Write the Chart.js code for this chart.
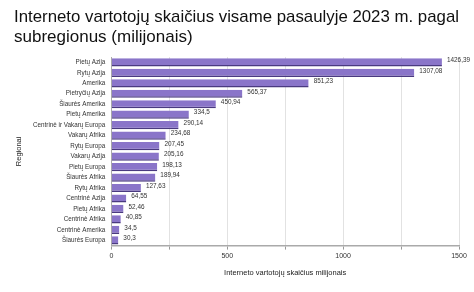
<!DOCTYPE html>
<html>
<head>
<meta charset="utf-8">
<script src="https://cdn.jsdelivr.net/npm/chart.js@4"></script>
<style>
  body { margin: 0; background: #fff; }
  canvas { display: block; }
</style>
</head>
<body>
<canvas id="chart" width="474" height="292"></canvas>
<script>
// data
const regions = ['Pietų Azija', 'Rytų Azija', 'Amerika', 'Pietryčių Azija', 'Šiaurės Amerika',
    'Pietų Amerika', 'Centrinė ir Vakarų Europa', 'Vakarų Afrika', 'Rytų Europa', 'Vakarų Azija',
    'Pietų Europa', 'Šiaurės Afrika', 'Rytų Afrika', 'Centrinė Azija', 'Pietų Afrika',
    'Centrinė Afrika', 'Centrinė Amerika', 'Šiaurės Europa'];
const users = [1426.39, 1307.08, 851.23, 565.37, 450.94, 334.5, 290.14, 234.68, 207.45, 205.16,
    198.13, 189.94, 127.63, 64.55, 52.46, 40.85, 34.5, 30.3];
const xTicks = [0, 500, 1000, 1500];

const fmt = v => String(v).replace('.', ',');

// value labels at bar ends
const barLabels = {
    id: 'barLabels',
    afterDatasetsDraw(chart) {
        const ctx = chart.ctx;
        const meta = chart.getDatasetMeta(0);
        ctx.save();
        ctx.font = '6.4px "Liberation Sans", Arial, sans-serif';
        ctx.fillStyle = '#333';
        ctx.textBaseline = 'middle';
        meta.data.forEach((bar, i) => {
            ctx.fillText(fmt(users[i]), bar.x + 5, bar.y - 2);
        });
        ctx.restore();
    }
};

new Chart(document.getElementById('chart').getContext('2d'), {
    type: 'bar',
    data: {
        labels: regions,
        datasets: [{
            data: users,
            backgroundColor: '#8a75c9',
            borderColor: '#4a3a80',
            borderWidth: { top: 0, right: 0, bottom: 1.5, left: 0 },
            borderSkipped: false,
            barPercentage: 0.85,
            categoryPercentage: 0.92
        }]
    },
    options: {
        indexAxis: 'y',
        responsive: false,
        animation: false,
        layout: { padding: { left: 14, right: 15, top: 0, bottom: 15 } },
        plugins: {
            legend: { display: false },
            tooltip: { enabled: false },
            title: {
                display: true,
                align: 'start',
                text: ['Interneto vartotojų skaičius visame pasaulyje 2023 m. pagal', 'subregionus (milijonais)'],
                color: '#111',
                font: { family: '"Liberation Sans", Arial, sans-serif', size: 17, weight: 'normal', lineHeight: 1.15 },
                padding: { top: 8, bottom: 10 }
            }
        },
        scales: {
            x: {
                min: 0,
                max: 1500,
                ticks: {
                    stepSize: 250,
                    color: '#333',
                    padding: 2,
                    font: { family: '"Liberation Sans", Arial, sans-serif', size: 7 },
                    callback: v => xTicks.includes(v) ? v : ''
                },
                grid: { color: '#e2e2e2', tickColor: '#999', tickLength: 4 },
                border: { color: '#aaa', width: 1.5 },
                title: {
                    display: true,
                    text: 'Interneto vartotojų skaičius milijonais',
                    color: '#222',
                    font: { family: '"Liberation Sans", Arial, sans-serif', size: 7.5 },
                    padding: { top: 6, bottom: 0 }
                }
            },
            y: {
                ticks: {
                    color: '#333',
                    autoSkip: false,
                    padding: 2,
                    font: { family: '"Liberation Sans", Arial, sans-serif', size: 6.3 }
                },
                grid: { display: false, drawTicks: true, tickColor: '#777', tickLength: 4 },
                border: { color: '#aaa' },
                title: {
                    display: true,
                    text: 'Regionai',
                    color: '#222',
                    font: { family: '"Liberation Sans", Arial, sans-serif', size: 7.5 },
                    padding: { top: 0, bottom: 8 }
                }
            }
        }
    },
    plugins: [barLabels]
});
</script>
</body>
</html>
